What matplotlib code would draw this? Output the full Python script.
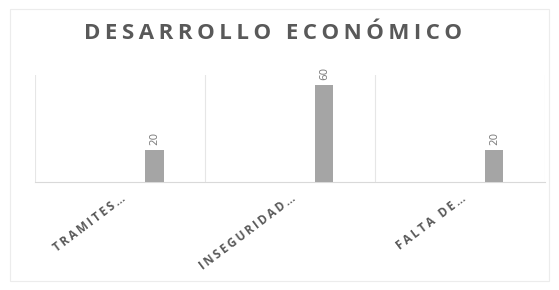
import matplotlib.pyplot as plt
import numpy as np

categories = ['TRAMITES…', 'INSEGURIDAD…', 'FALTA DE…']
values = [20, 60, 20]
value_labels = ['20', '60', '20']

grey_text = '#595959'
bar_color = '#a5a5a5'
line_color = '#e6e6e6'


def spaced(s, gap='\u2009'):
    return gap.join(s)


fig = plt.figure(figsize=(5.59, 2.90), dpi=100)
fig.patches.append(plt.Rectangle((0.018, 0.03), 0.965, 0.94, transform=fig.transFigure,
                                 fill=False, edgecolor='#ececec', linewidth=0.8))
ax = fig.add_axes([0.063, 0.372, 0.912, 0.369])

x = np.arange(len(categories))
offset = 0.2
bars = ax.bar(x + offset, values, width=0.11, color=bar_color, zorder=3)

for xi, v, lab in zip(x, values, value_labels):
    ax.text(xi + offset, v + 3, lab, rotation=90, ha='center', va='bottom',
            fontsize=7.5, color='#7f7f7f', clip_on=False)

# category separators
for sep in np.arange(-0.5, len(categories), 1.0):
    ax.axvline(sep, color=line_color, linewidth=0.8, zorder=1)

ax.set_xlim(-0.5, len(categories) - 0.5)
ax.set_ylim(0, 66)
ax.set_yticks([])
ax.set_xticks(x)
ax.set_xticklabels([spaced(c) for c in categories], rotation=37, ha='right',
                   rotation_mode='anchor', fontsize=8.5, color=grey_text,
                   fontweight='bold', family='Open Sans')
ax.tick_params(axis='x', length=0, pad=7)
for side in ['top', 'left', 'right']:
    ax.spines[side].set_visible(False)
ax.spines['bottom'].set_color('#d9d9d9')

fig.text(0.488, 0.885, spaced('DESARROLLO ECONÓMICO'),
         ha='center', va='center', fontsize=16, color=grey_text,
         fontweight='bold', family='Open Sans')

fig.savefig('out.png', dpi=100)
